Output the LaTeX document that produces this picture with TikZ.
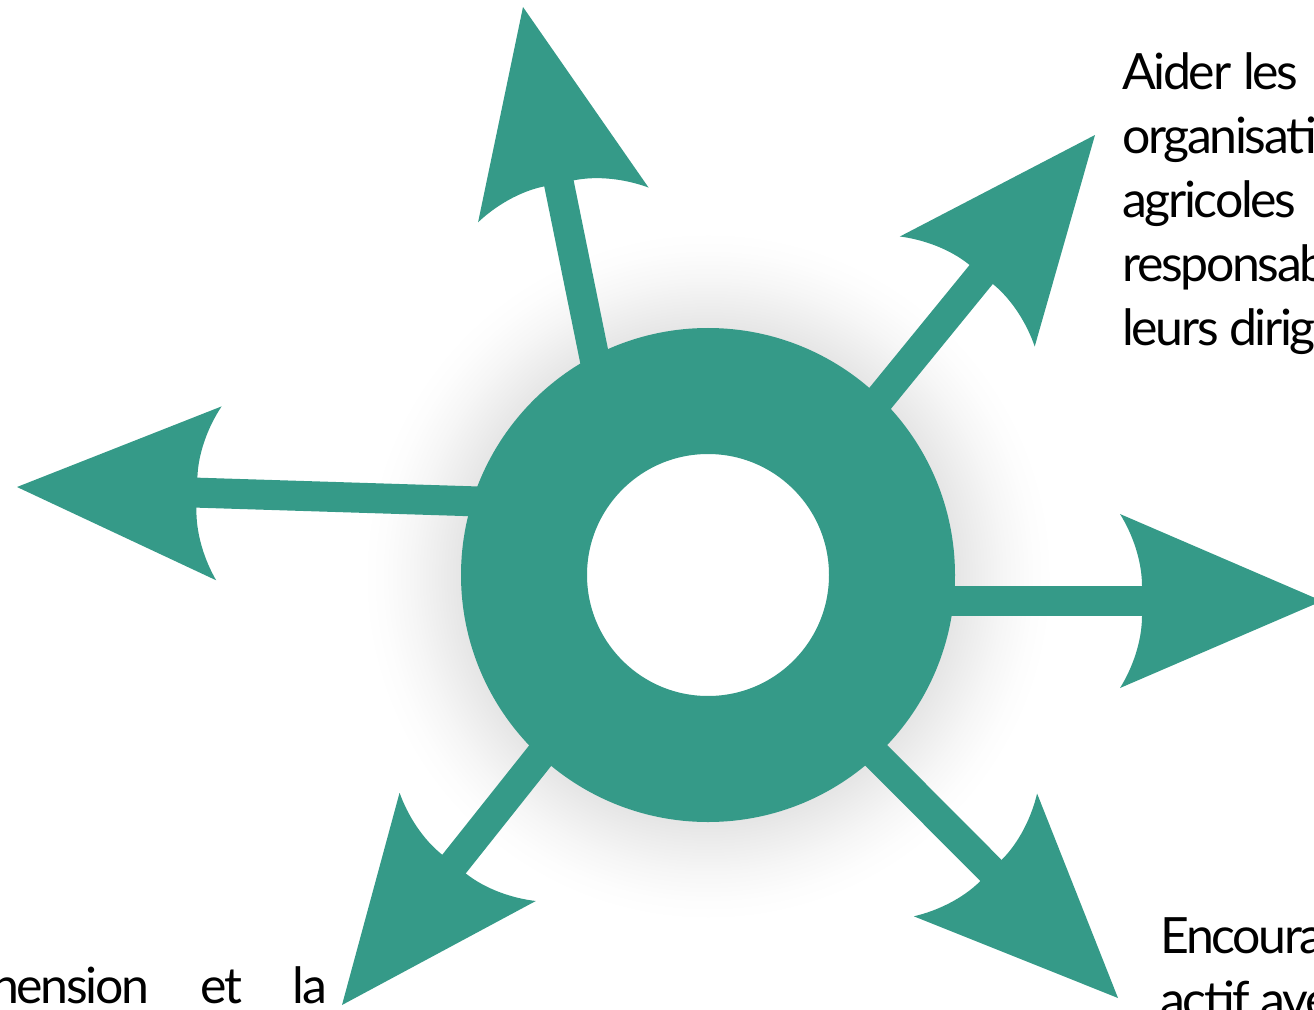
\documentclass[tikz,border=0pt]{standalone}
\usepackage{fontspec}
\setmainfont{Lato}
\newfontfamily\serre[LetterSpace=-4.7]{Lato}
\usetikzlibrary{arrows.meta}

\definecolor{vertbleu}{RGB}{53,154,136}

% halo grey behind the ring
\pgfdeclareradialshading{halo}{\pgfpoint{0bp}{0bp}}{color(0bp)=(black!10); color(17.9bp)=(black!10); color(19.5bp)=(black!7); color(21.5bp)=(black!3.5); color(23.5bp)=(black!1); color(25bp)=(white); color(50bp)=(white)}

% arrow head with curved back
\pgfdeclarearrow{
  name = Fleche,
  setup code = {
    \pgfarrowssettipend{0pt}
    \pgfarrowssetlineend{-133pt}
    \pgfarrowssetbackend{-151.5pt}
    \pgfarrowshullpoint{0pt}{0pt}
    \pgfarrowshullpoint{-151.5pt}{65.25pt}
    \pgfarrowshullpoint{-151.5pt}{-65.25pt}
  },
  drawing code = {
    \pgfpathmoveto{\pgfqpoint{0pt}{0pt}}
    \pgfpathlineto{\pgfqpoint{-151.5pt}{65.25pt}}
    \pgfpathcurveto{\pgfqpoint{-142pt}{50pt}}{\pgfqpoint{-135pt}{30pt}}{\pgfqpoint{-135pt}{11.25pt}}
    \pgfpathlineto{\pgfqpoint{-135pt}{-11.25pt}}
    \pgfpathcurveto{\pgfqpoint{-135pt}{-30pt}}{\pgfqpoint{-142pt}{-50pt}}{\pgfqpoint{-151.5pt}{-65.25pt}}
    \pgfpathclose
    \pgfusepathqfill
  }
}

\tikzset{
  anneau/.style={circle, draw=vertbleu, fill=white, line width=94.5pt, minimum size=276pt, inner sep=0pt, outer sep=0pt},
  rayon/.style={draw=vertbleu, line width=22.5pt, -{Fleche}},
  texte/.style={anchor=base west, inner sep=0pt, font=\serre\fontsize{37.5}{48}\selectfont},
}

\begin{document}
\begin{tikzpicture}[x=0.75pt,y=0.75pt,yscale=-1,xscale=1]
\useasboundingbox (0,0) rectangle (1314,1010);
\clip (0,0) rectangle (1314,1010);

%Shadow
\shade [shading=halo] (708,576) circle (345);

%Ring
\node [anneau] (ring) at (708,575) {};

%Arrow ends
\coordinate (s1) at (600,385);  \coordinate (t1) at (523,7);
\coordinate (s2) at (860,423);  \coordinate (t2) at (1095,135);
\coordinate (s3) at (930,601);  \coordinate (t3) at (1322,601);
\coordinate (s4) at (495,502);  \coordinate (t4) at (17,487);
\coordinate (s5) at (555,737);  \coordinate (t5) at (342,1005);
\coordinate (s6) at (860,739);  \coordinate (t6) at (1118,998);

%Arrows
\draw [rayon] (s1) -- (t1) ;
\draw [rayon] (s2) -- (t2) ;
\draw [rayon] (s3) -- (t3) ;
\draw [rayon] (s4) -- (t4) ;
\draw [rayon] (s5) -- (t5) ;
\draw [rayon] (s6) -- (t6) ;

% Text Node
\node [texte] (aider1) at (1122,89) {\makebox[132pt][s]{Aider les}};
\node [texte] (aider2) at (1122,153) {organisati};
\node [texte] (aider3) at (1122,217) {agricoles};
\node [texte] (aider4) at (1122,281) {responsab};
\node [texte] (aider5) at (1122,345) {leurs dirig};
% Text Node
\node [texte] (encour1) at (1160,953) {Encoura};
\node [texte] (encour2) at (1160,1017) {actif ave};
% Text Node
\node [texte] (compr) at (-9,1003) {\makebox[252pt][s]{hension et la}};

\end{tikzpicture}
\end{document}
